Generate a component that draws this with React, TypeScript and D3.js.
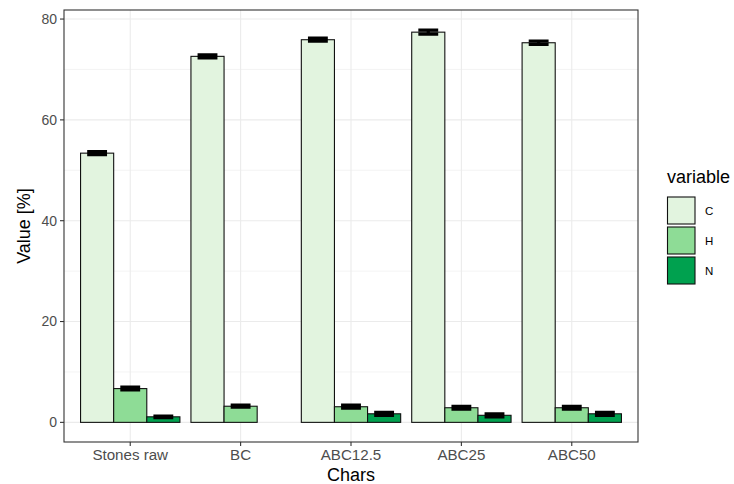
import React from "react";
import * as d3 from "d3";

const categories = ["Stones raw", "BC", "ABC12.5", "ABC25", "ABC50"];
const variables = ["C", "H", "N"];
const cValues = [53.4, 72.6, 75.9, 77.4, 75.3];
const hValues = [6.7, 3.2, 3.1, 2.9, 2.9];
const nValues: (number | null)[] = [1.1, null, 1.7, 1.4, 1.7];
const cErr = [0.3, 0.3, 0.3, 0.4, 0.35];
const hErr = [0.28, 0.2, 0.3, 0.3, 0.3];
const nErr: (number | null)[] = [0.15, null, 0.3, 0.3, 0.3];
const fillColors = ["#e2f4df", "#8edc96", "#00a14f"];
const yMajorTicks = [0, 20, 40, 60, 80];
const yMinorTicks = [10, 30, 50, 70];

const W = 734;
const H = 484;
const panel = { left: 64, top: 10, right: 638, bottom: 442 };
const FONT = "'Liberation Sans', Arial, Helvetica, sans-serif";

type Row = { cat: string; variable: string; value: number; err: number };

export default function App() {
  const seriesVals = [cValues, hValues, nValues];
  const seriesErr = [cErr, hErr, nErr];
  const rows: Row[] = [];
  categories.forEach((cat, i) => {
    variables.forEach((v, j) => {
      const val = seriesVals[j][i];
      const e = seriesErr[j][i];
      if (val !== null && val !== undefined) rows.push({ cat, variable: v, value: val as number, err: (e ?? 0) as number });
    });
  });

  const maxTop = (d3.max(rows, (r) => r.value + r.err) as number) + 0.1;
  const expand = maxTop * 0.05;
  const y = d3.scaleLinear().domain([-expand, maxTop + expand]).range([panel.bottom, panel.top]);
  const x = d3.scaleBand<string>().domain(categories).range([panel.left, panel.right]).paddingInner(0.1).paddingOuter(0.15);
  const xSub = d3.scaleBand<string>().domain(variables).range([0, x.bandwidth()]);
  const color = d3.scaleOrdinal<string, string>().domain(variables).range(fillColors);
  const center = (c: string) => (x(c) as number) + x.bandwidth() / 2;

  const legendY = d3.scaleBand<string>().domain(variables).range([196.5, 286.5]);

  const ebHalf = xSub.bandwidth() * 0.3;

  return (
    <svg width={W} height={H} style={{ position: "absolute", left: 0, top: 0, background: "#fff" }} fontFamily={FONT}>
      <rect x={0} y={0} width={W} height={H} fill="#fff" />
      {/* grid */}
      {yMinorTicks.map((t) => (
        <line key={"mn" + t} x1={panel.left} x2={panel.right} y1={y(t)} y2={y(t)} stroke="#ededed" strokeWidth={0.6} />
      ))}
      {yMajorTicks.map((t) => (
        <line key={"mj" + t} x1={panel.left} x2={panel.right} y1={y(t)} y2={y(t)} stroke="#ebebeb" strokeWidth={1.1} />
      ))}
      {categories.map((c) => (
        <line key={"vx" + c} x1={center(c)} x2={center(c)} y1={panel.top} y2={panel.bottom} stroke="#ebebeb" strokeWidth={1.1} />
      ))}
      {/* bars */}
      {rows.map((r, i) => (
        <rect
          key={"b" + i}
          x={(x(r.cat) as number) + (xSub(r.variable) as number)}
          y={y(r.value)}
          width={xSub.bandwidth()}
          height={y(0) - y(r.value)}
          fill={color(r.variable)}
          stroke="#111"
          strokeWidth={1.1}
        />
      ))}
      {/* error bars */}
      {rows.map((r, i) => {
        const cx = (x(r.cat) as number) + (xSub(r.variable) as number) + xSub.bandwidth() / 2;
        const y1 = y(r.value + r.err);
        const y2 = y(r.value - r.err);
        return (
          <path
            key={"e" + i}
            d={`M${cx - ebHalf},${y1}H${cx + ebHalf}M${cx},${y1}V${y2}M${cx - ebHalf},${y2}H${cx + ebHalf}`}
            stroke="#000"
            strokeWidth={3.2}
            fill="none"
          />
        );
      })}
      {/* panel border */}
      <rect x={panel.left} y={panel.top} width={panel.right - panel.left} height={panel.bottom - panel.top} fill="none" stroke="#333" strokeWidth={1.1} />
      {/* y axis */}
      {yMajorTicks.map((t) => (
        <g key={"yt" + t}>
          <line x1={panel.left - 4} x2={panel.left} y1={y(t)} y2={y(t)} stroke="#333" strokeWidth={1.1} />
          <text x={panel.left - 7} y={y(t)} dy="0.35em" textAnchor="end" fontSize={14} fill="#4d4d4d">
            {t}
          </text>
        </g>
      ))}
      {/* x axis */}
      {categories.map((c) => (
        <g key={"xt" + c}>
          <line x1={center(c)} x2={center(c)} y1={panel.bottom} y2={panel.bottom + 4} stroke="#333" strokeWidth={1.1} />
          <text transform={`translate(${center(c)},460) scale(1.08,1)`} textAnchor="middle" fontSize={14} fill="#4d4d4d">
            {c}
          </text>
        </g>
      ))}
      <text x={(panel.left + panel.right) / 2} y={481} textAnchor="middle" fontSize={18} fill="#000">
        Chars
      </text>
      <text transform={`translate(30,${(panel.top + panel.bottom) / 2}) rotate(-90)`} textAnchor="middle" fontSize={18} fill="#000">
        Value [%]
      </text>
      {/* legend */}
      <text x={667} y={183} fontSize={18} fill="#000">
        variable
      </text>
      {variables.map((v) => (
        <g key={"lg" + v}>
          <rect x={667.5} y={(legendY(v) as number) + 0.5} width={27.5} height={27} fill={color(v)} stroke="#111" strokeWidth={1.1} />
          <text x={705} y={(legendY(v) as number) + 14} dy="0.35em" fontSize={11.5} fill="#000">
            {v}
          </text>
        </g>
      ))}
    </svg>
  );
}
